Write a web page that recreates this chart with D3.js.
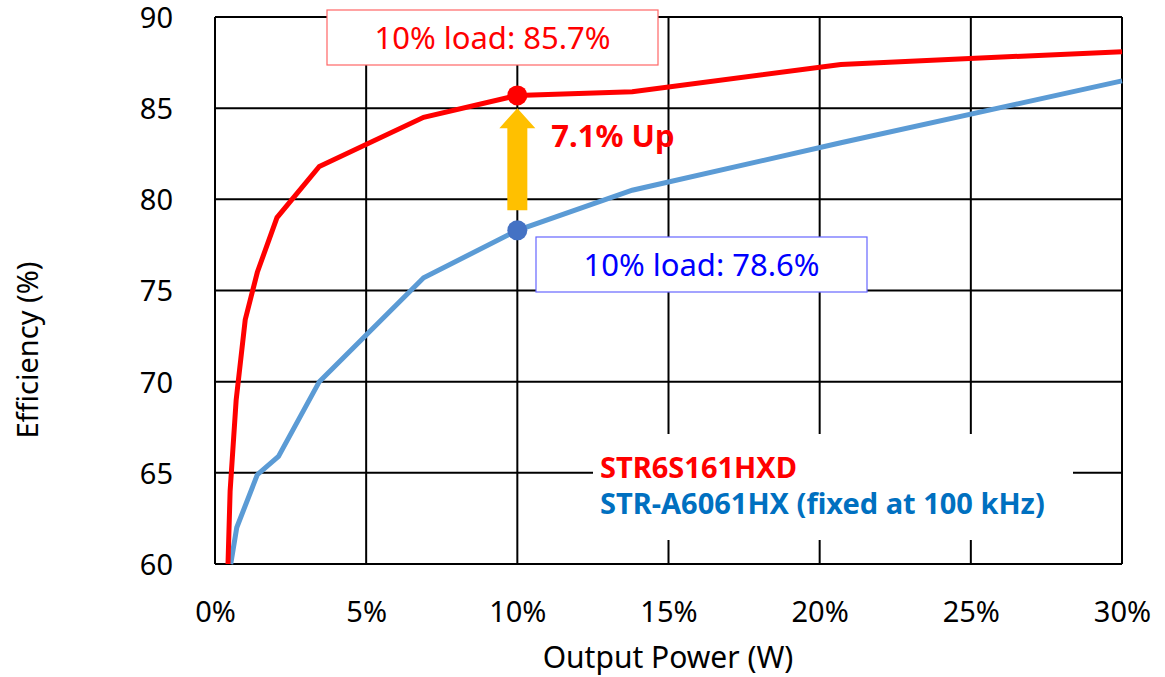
<!DOCTYPE html>
<html>
<head>
<meta charset="utf-8">
<script src="https://cdn.jsdelivr.net/npm/d3@7"></script>
<style>
  body { margin: 0; background: #fff; }
  text { font-family: "Noto Sans", "Open Sans", sans-serif; }
</style>
</head>
<body>
<svg id="chart" width="1165" height="677"></svg>
<script>
// data
const redX = [0.43, 0.5, 0.7, 1.0, 1.4, 2.05, 3.45, 6.9, 10, 13.8, 20.7, 30];
const redY = [60, 64, 69, 73.4, 76, 79, 81.8, 84.5, 85.7, 85.9, 87.4, 88.1];
const blueX = [0.52, 0.72, 1.4, 2.1, 3.45, 6.9, 10, 13.8, 20.7, 30];
const blueY = [60, 62, 64.9, 65.9, 70, 75.7, 78.3, 80.5, 83.1, 86.5];
const xTicks = [0, 5, 10, 15, 20, 25, 30];
const yTicks = [60, 65, 70, 75, 80, 85, 90];
const seriesNames = ["STR6S161HXD", "STR-A6061HX (fixed at 100 kHz)"];
const redMark = { x: 10, y: 85.7, label: "10% load: 85.7%" };
const blueMark = { x: 10, y: 78.3, label: "10% load: 78.6%" };
const arrow = { x: 10, from: 79.4, to: 85.0, label: "7.1% Up" };

const svg = d3.select("#chart");
const margin = { left: 215, top: 17, right: 43, bottom: 113 };
const width = 1165 - margin.left - margin.right;
const height = 677 - margin.top - margin.bottom;
const g = svg.append("g").attr("transform", `translate(${margin.left},${margin.top})`);

const x = d3.scaleLinear().domain([0, 30]).range([0, width]);
const y = d3.scaleLinear().domain([60, 90]).range([height, 0]);

// grid lines
g.selectAll(".vgrid").data(xTicks).enter().append("line")
  .attr("class", "vgrid")
  .attr("x1", d => x(d)).attr("x2", d => x(d))
  .attr("y1", 0).attr("y2", height)
  .attr("stroke", "#000").attr("stroke-width", 2);
g.selectAll(".hgrid").data(yTicks).enter().append("line")
  .attr("class", "hgrid")
  .attr("x1", 0).attr("x2", width)
  .attr("y1", d => y(d)).attr("y2", d => y(d))
  .attr("stroke", "#000").attr("stroke-width", 2);

// tick labels via axes (no lines)
const xAxis = g.append("g")
  .attr("transform", `translate(0,${height})`)
  .call(d3.axisBottom(x).tickValues(xTicks).tickSize(0).tickPadding(0).tickFormat(d => d + "%"));
xAxis.select(".domain").remove();
xAxis.selectAll(".tick text").attr("y", 58).attr("dy", null);

const yAxis = g.append("g")
  .call(d3.axisLeft(y).tickValues(yTicks).tickSize(0).tickFormat(d3.format("d")));
yAxis.select(".domain").remove();
yAxis.selectAll(".tick text").attr("x", -42).attr("dy", "0.36em");

[xAxis, yAxis].forEach(a => {
  a.selectAll("text").attr("fill", "#000").style("font-size", "29px")
    .style("font-family", "'Noto Sans', 'Open Sans', sans-serif");
});

// legend background hides the grid under it
g.append("rect")
  .attr("x", 593 - margin.left).attr("y", 434 - margin.top)
  .attr("width", 480).attr("height", 106)
  .attr("fill", "#fff");

// series lines
const line = d3.line().x(d => x(d[0])).y(d => y(d[1]));
g.append("path")
  .datum(blueX.map((v, i) => [v, blueY[i]]))
  .attr("d", line).attr("fill", "none")
  .attr("stroke", "#5B9BD5").attr("stroke-width", 5);
g.append("path")
  .datum(redX.map((v, i) => [v, redY[i]]))
  .attr("d", line).attr("fill", "none")
  .attr("stroke", "#FF0000").attr("stroke-width", 5);

// arrow
const ax = x(arrow.x), ay0 = y(arrow.from), ay1 = y(arrow.to);
g.append("path")
  .attr("d", `M${ax - 10},${ay0} L${ax - 10},${ay1 + 20} L${ax - 18},${ay1 + 20} L${ax},${ay1} L${ax + 18},${ay1 + 20} L${ax + 10},${ay1 + 20} L${ax + 10},${ay0} Z`)
  .attr("fill", "#FFC000");
g.append("text")
  .attr("x", ax + 34).attr("y", ay1 + 39)
  .attr("fill", "#FF0000").style("font-size", "31px").style("font-weight", "bold")
  .text(arrow.label);

// dots
g.append("circle").attr("cx", x(redMark.x)).attr("cy", y(redMark.y)).attr("r", 10).attr("fill", "#FF0000");
g.append("circle").attr("cx", x(blueMark.x)).attr("cy", y(blueMark.y)).attr("r", 10).attr("fill", "#4472C4");

// callout boxes
function callout(bx, by, bw, bh, stroke, color, txt) {
  svg.append("rect").attr("x", bx).attr("y", by).attr("width", bw).attr("height", bh)
    .attr("fill", "#fff").attr("stroke", stroke).attr("stroke-width", 1.2);
  svg.append("text").attr("x", bx + bw / 2).attr("y", by + bh / 2 + 11)
    .attr("text-anchor", "middle").attr("fill", color).style("font-size", "31px").text(txt);
}
callout(327, 10, 331, 55, "#FF6666", "#FF0000", redMark.label);
callout(536, 237, 331, 55, "#6666FF", "#0000FF", blueMark.label);

// legend
svg.append("text").attr("x", 600).attr("y", 478).attr("fill", "#FF0000")
  .style("font-size", "29px").style("font-weight", "bold").text(seriesNames[0]);
svg.append("text").attr("x", 600).attr("y", 514).attr("fill", "#0070C0")
  .style("font-size", "29px").style("font-weight", "bold").text(seriesNames[1]);

// axis titles
svg.append("text").attr("x", 668).attr("y", 668)
  .attr("text-anchor", "middle").attr("fill", "#000").style("font-size", "30px").text("Output Power (W)");
svg.append("text").attr("transform", "translate(38,350) rotate(-90)")
  .attr("text-anchor", "middle").attr("fill", "#000").style("font-size", "29px").text("Efficiency (%)");
</script>
</body>
</html>
